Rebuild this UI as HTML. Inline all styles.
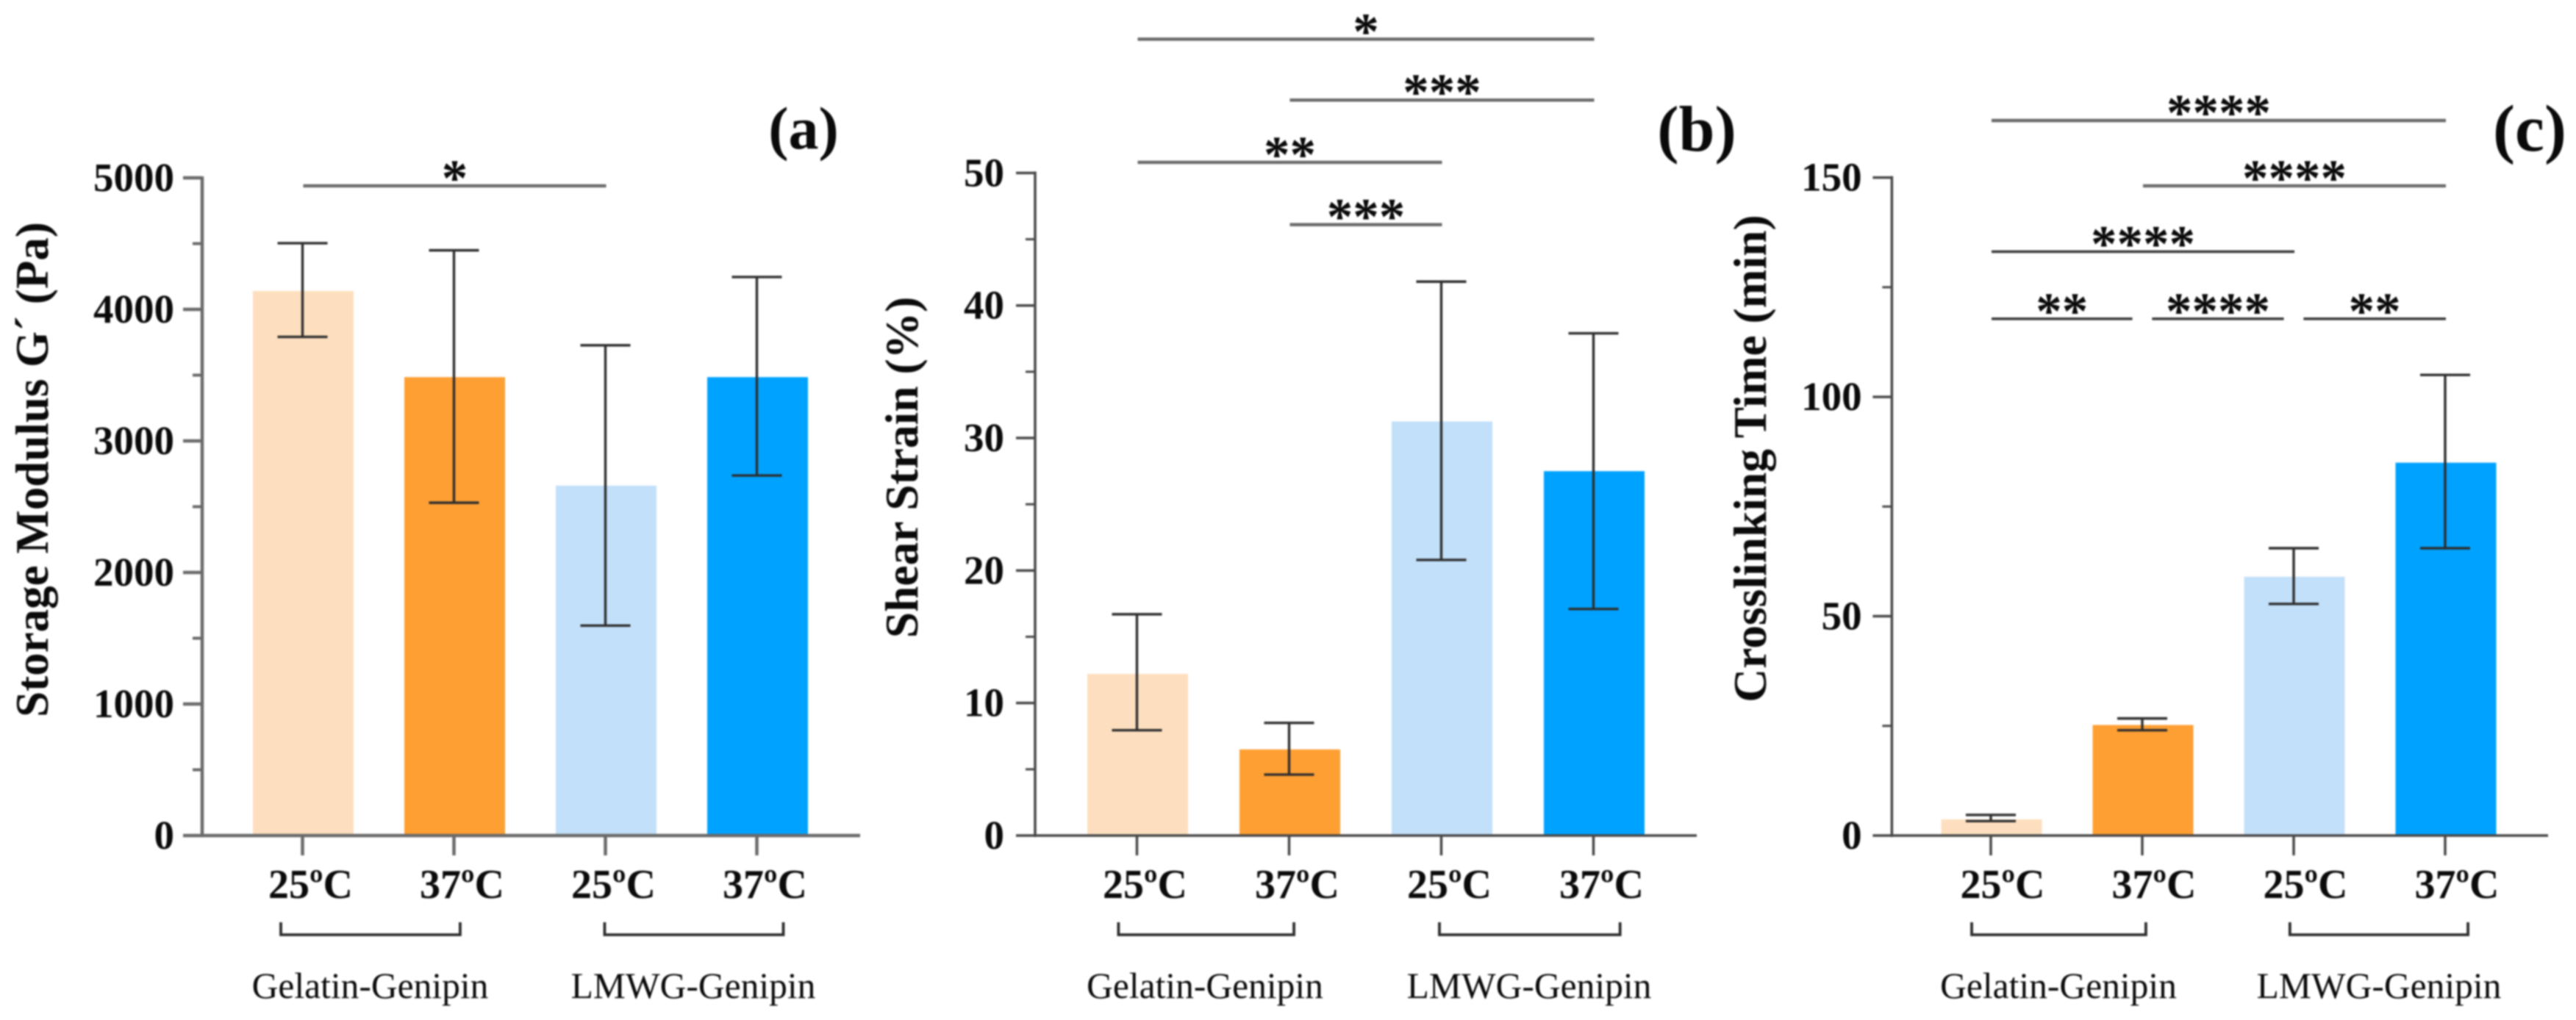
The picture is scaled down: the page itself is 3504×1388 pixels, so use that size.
<!DOCTYPE html>
<html lang="en">
<head>
<meta charset="utf-8">
<title>Storage modulus, shear strain and crosslinking time</title>
<style>
  html, body { margin: 0; padding: 0; background: #fff; }
  body { width: 3504px; height: 1388px; overflow: hidden; }
  #figure { display: block; filter: blur(1.1px); }
  text { font-family: "Liberation Serif", serif; fill: #0a0a0a; }
</style>
</head>
<body>
<svg id="figure" xmlns="http://www.w3.org/2000/svg" width="3504" height="1388" viewBox="0 0 3504 1388"></svg>
<script>
/* ---------- Shared categories ---------- */
const categories = ['25ºC', '37ºC', '25ºC', '37ºC'];
const barColors = ['#fddfbf', '#fe9f33', '#c2e0fa', '#00a2ff'];
const groupLabels = ['Gelatin-Genipin', 'LMWG-Genipin'];

/* ---------- Panel (a) data ---------- */
const aValues = [4140, 3485, 2660, 3485];
const aErrHigh = [4503, 4449, 3727, 4246];
const aErrLow = [3791, 2530, 1596, 2737];
const aTicks = [0, 1000, 2000, 3000, 4000, 5000];
const aMinorTicks = [500, 1500, 2500, 3500, 4500];
const aSigFrom = [0];
const aSigTo = [2];
const aSigLevel = [4939];
const aSigLabels = ['*'];

/* ---------- Panel (b) data ---------- */
const bValues = [12.2, 6.5, 31.25, 27.5];
const bErrHigh = [16.7, 8.5, 41.8, 37.9];
const bErrLow = [7.95, 4.6, 20.8, 17.1];
const bTicks = [0, 10, 20, 30, 40, 50];
const bMinorTicks = [5, 15, 25, 35, 45];
const bSigFrom = [0, 1, 0, 1];
const bSigTo = [3, 3, 2, 2];
const bSigLevel = [60.1, 55.5, 50.8, 46.1];
const bSigLabels = ['*', '***', '**', '***'];

/* ---------- Panel (c) data ---------- */
const cValues = [3.7, 25.2, 59, 85];
const cErrHigh = [4.7, 26.7, 65.5, 105];
const cErrLow = [3.3, 24, 52.8, 65.5];
const cTicks = [0, 50, 100, 150];
const cMinorTicks = [25, 75, 125];
const cSigFrom = [0, 1, 0, 0, 1.06, 2.06];
const cSigTo = [3, 3, 2, 0.93, 1.93, 3];
const cSigLevel = [163, 148.1, 133.1, 117.8, 117.8, 117.8];
const cSigLabels = ['****', '****', '****', '**', '****', '**'];

/* ---------- Panel layouts (geometry, not data) ---------- */
const panels = [
  { id: 'a', title: 'Storage Modulus G´ (Pa)', titleSize: 63, tag: '(a)', tagSize: 82, tagX: 1093, tagY: 202,
    titleX: 65, titleY: 639, axisX: 275, axisEnd: 1170, x0: 412.5, step: 206, top: 242, max: 5000,
    labelRight: 237, axisColor: '#6a6a6a', axisWidth: 4.5, labelShift: 10, darkSigFrom: 9,
    groupFrom: [-0.148, 1.99], groupTo: [1.036, 3.17], groupCenter: [503.5, 943],
    values: aValues, high: aErrHigh, low: aErrLow, ticks: aTicks, minor: aMinorTicks,
    sigFrom: aSigFrom, sigTo: aSigTo, sigLevel: aSigLevel, sigLabels: aSigLabels },
  { id: 'b', title: 'Shear Strain (%)', titleSize: 63.5, tag: '(b)', tagSize: 88, tagX: 2308, tagY: 205,
    titleX: 1248, titleY: 636, axisX: 1408, axisEnd: 2308, x0: 1547.5, step: 207, top: 235.4, max: 50,
    labelRight: 1366, axisColor: '#484848', axisWidth: 3.5, labelShift: 10, darkSigFrom: 9,
    groupFrom: [-0.126, 1.983], groupTo: [1.027, 3.17], groupCenter: [1639, 2080],
    values: bValues, high: bErrHigh, low: bErrLow, ticks: bTicks, minor: bMinorTicks,
    sigFrom: bSigFrom, sigTo: bSigTo, sigLevel: bSigLevel, sigLabels: bSigLabels },
  { id: 'c', title: 'Crosslinking Time (min)', titleSize: 63.5, tag: '(c)', tagSize: 90, tagX: 3441, tagY: 205,
    titleX: 2402, titleY: 624, axisX: 2573.4, axisEnd: 3466, x0: 2709, step: 206, top: 241.6, max: 150,
    labelRight: 2532.6, axisColor: '#484848', axisWidth: 3.5, labelShift: 15, darkSigFrom: 2,
    groupFrom: [-0.131, 1.97], groupTo: [1.019, 3.146], groupCenter: [2800, 3236],
    values: cValues, high: cErrHigh, low: cErrLow, ticks: cTicks, minor: cMinorTicks,
    sigFrom: cSigFrom, sigTo: cSigTo, sigLevel: cSigLevel, sigLabels: cSigLabels }
];

const BASE_Y = 1137;
const BAR_WIDTH = 137;
const CAP_HALF = 34;
const svg = document.getElementById('figure');
const NS = 'http://www.w3.org/2000/svg';

function make(parent, tag, props, content) {
  const el = document.createElementNS(NS, tag);
  for (const k in props) el.setAttribute(k, props[k]);
  if (content !== undefined) el.textContent = content;
  parent.appendChild(el);
  return el;
}

panels.forEach(function (p) {
  const x = function (i) { return p.x0 + i * p.step; };
  const y = function (v) { return BASE_Y - (v / p.max) * (BASE_Y - p.top); };

  const g = make(svg, 'g', {});
  
  

  /* bars */
  p.values.forEach(function (v, i) {
    const bar = make(g, 'rect', { x: x(i) - BAR_WIDTH / 2, y: y(v), width: BAR_WIDTH, height: BASE_Y - y(v), fill: barColors[i] });
    
    
  });

  /* axes */
  const yAxis = make(g, 'line', { x1: p.axisX, x2: p.axisX, y1: p.top - 2, y2: BASE_Y + 2, stroke: p.axisColor, 'stroke-width': p.axisWidth });
  
  
  const xAxis = make(g, 'line', { x1: p.axisX - 2, x2: p.axisEnd, y1: BASE_Y, y2: BASE_Y, stroke: p.axisColor, 'stroke-width': p.axisWidth });
  
  

  /* y ticks */
  p.ticks.forEach(function (t) {
    const tick = make(g, 'line', { x1: p.axisX - 26, x2: p.axisX, y1: y(t), y2: y(t), stroke: p.axisColor, 'stroke-width': p.axisWidth });
    
    
    const label = make(g, 'text', { x: p.labelRight, y: y(t) + 18, 'text-anchor': 'end', 'font-size': 55, 'font-weight': 'bold' }, String(t));
    
    
  });
  p.minor.forEach(function (t) {
    const tick = make(g, 'line', { x1: p.axisX - 13, x2: p.axisX, y1: y(t), y2: y(t), stroke: p.axisColor, 'stroke-width': p.axisWidth - 0.5 });
    
    
  });

  /* x ticks and labels */
  categories.forEach(function (c, i) {
    const tick = make(g, 'line', { x1: x(i) - 1, x2: x(i) - 1, y1: BASE_Y, y2: BASE_Y + 27, stroke: p.axisColor, 'stroke-width': p.axisWidth });
    
    
    const label = make(g, 'text', { x: x(i) + p.labelShift, y: 1222, 'text-anchor': 'middle', 'font-size': 56, 'font-weight': 'bold' }, c);
    
    
  });

  /* error bars */
  p.values.forEach(function (v, i) {
    const cx = x(i) - 1;
    const err = make(g, 'path', {
      d: 'M' + (cx - CAP_HALF) + ' ' + y(p.high[i]) + 'H' + (cx + CAP_HALF) +
         'M' + cx + ' ' + y(p.high[i]) + 'V' + y(p.low[i]) +
         'M' + (cx - CAP_HALF) + ' ' + y(p.low[i]) + 'H' + (cx + CAP_HALF),
      fill: 'none', stroke: '#2e2e2e', 'stroke-width': 3.4 });
    
    
  });

  /* significance bars */
  p.sigLevel.forEach(function (level, i) {
    const x1 = x(p.sigFrom[i]);
    const x2 = x(p.sigTo[i]);
    const dark = i >= p.darkSigFrom;
    const line = make(g, 'line', { x1: x1, x2: x2, y1: y(level), y2: y(level), stroke: dark ? '#3c3c3c' : '#6a6a6a', 'stroke-width': dark ? 3.6 : 4.4 });
    
    
    const star = make(g, 'text', { x: (x1 + x2) / 2, y: y(level) + 13, 'text-anchor': 'middle', 'font-size': 71, 'font-weight': 'bold' }, p.sigLabels[i]);
    
    
  });

  /* group brackets and labels */
  groupLabels.forEach(function (name, i) {
    const x1 = x(p.groupFrom[i]);
    const x2 = x(p.groupTo[i]);
    const bracket = make(g, 'path', { d: 'M' + x1 + ' 1255V1272H' + x2 + 'V1255', fill: 'none', stroke: '#2e2e2e', 'stroke-width': 3.8 });
    
    
    const label = make(g, 'text', { x: p.groupCenter[i], y: 1358, 'text-anchor': 'middle', 'font-size': 49.5 }, name);
    
    
  });

  /* titles */
  const yTitle = make(g, 'text', { x: p.titleX, y: p.titleY, 'text-anchor': 'middle', 'font-size': p.titleSize, 'font-weight': 'bold',
    transform: 'rotate(-90 ' + p.titleX + ' ' + p.titleY + ')' }, p.title);
  
  
  const tag = make(g, 'text', { x: p.tagX, y: p.tagY, 'text-anchor': 'middle', 'font-size': p.tagSize, 'font-weight': 'bold' }, p.tag);
  
  
});
</script>
</body>
</html>
